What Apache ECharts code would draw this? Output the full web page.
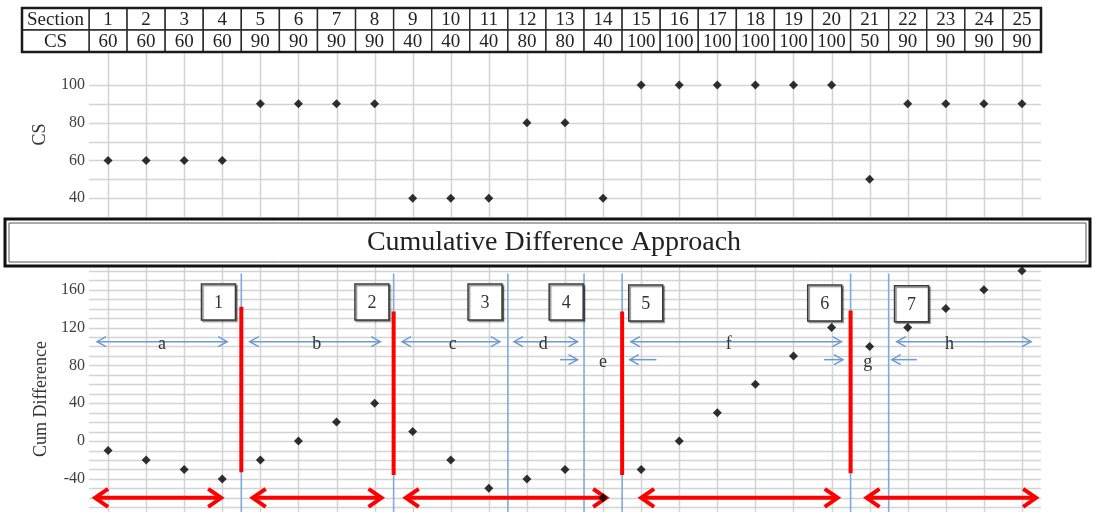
<!DOCTYPE html>
<html>
<head>
<meta charset="utf-8">
<title>Cumulative Difference Approach</title>
<script src="https://cdn.jsdelivr.net/npm/echarts@6/dist/echarts.min.js"></script>
<style>
  html, body { margin: 0; padding: 0; background: #ffffff; }
  #chart { width: 1093px; height: 512px; }
</style>
</head>
<body>
<div id="chart"></div>
<script>
// ---- Data -------------------------------------------------------------
const sections = [1, 2, 3, 4, 5, 6, 7, 8, 9, 10, 11, 12, 13, 14, 15, 16, 17, 18, 19, 20, 21, 22, 23, 24, 25];
const csValues = [60, 60, 60, 60, 90, 90, 90, 90, 40, 40, 40, 80, 80, 40, 100, 100, 100, 100, 100, 100, 50, 90, 90, 90, 90];
// Running sum of (CS - 70) per section
const cumDiff = [-10, -20, -30, -40, -20, 0, 20, 40, 10, -20, -50, -40, -30, -60, -30, 0, 30, 60, 90, 120, 100, 120, 140, 160, 180];

const rowHeaders = ['Section', 'CS'];
const chartTitle = 'Cumulative Difference Approach';

// Axis tick labels and grid levels
const csTickLabels = [40, 60, 80, 100];
const csGridLevels = [40, 50, 60, 70, 80, 90, 100];
const cdTickLabels = [-40, 0, 40, 80, 120, 160];
const cdGridLevels = [-70, -60, -50, -40, -30, -20, -10, 0, 10, 20, 30, 40, 50, 60, 70, 80, 90, 100, 110, 120, 130, 140, 150, 160, 170, 180];

// Segment boundaries (section units) and the level their lines start from
const dividerX = [4.5, 8.5, 11.5, 13.5, 14.5, 20.5, 21.5];
const dividerTop = 177;
// Change points: [section, top, bottom]
const breakLines = [[4.5, 142, -33], [8.5, 137, -36], [14.5, 137, -36], [20.5, 138, -34]];
// Homogeneous sections: [from, to, level]
const segmentSpans = [[0.58, 4.05, -60], [4.72, 8.26, -60], [8.74, 14.16, -60], [14.92, 20.24, -60], [20.84, 25.45, -60]];
// Sub-range arrows: [from, to, level, head at from, head at to]
const rangeArrows = [
  [0.71, 4.13, 105, 1, 1],
  [4.72, 8.15, 105, 1, 1],
  [8.72, 11.29, 105, 1, 1],
  [11.66, 13.33, 105, 1, 1],
  [12.87, 13.33, 86, 0, 1],
  [14.70, 15.40, 86, 1, 0],
  [14.73, 20.26, 105, 1, 1],
  [19.80, 20.30, 86, 0, 1],
  [21.58, 22.24, 86, 1, 0],
  [21.71, 25.24, 105, 1, 1]
];
const rangeLetters = ['a', 'b', 'c', 'd', 'e', 'f', 'g', 'h'];
const rangeLetterPos = [[2.42, 102], [6.48, 102], [10.05, 102], [12.43, 102], [14.0, 83], [17.3, 102], [20.95, 83], [23.1, 102]];
const segmentNumbers = ['1', '2', '3', '4', '5', '6', '7'];
const segmentNumberPos = [[3.9, 147], [7.93, 147], [10.9, 147], [13.03, 147], [15.12, 146], [19.82, 146], [22.1, 145]];

// ---- Styling helpers ---------------------------------------------------
const SERIF = "'Liberation Serif', 'DejaVu Serif', serif";
const GRID_LINE = { stroke: '#d3d3d3', lineWidth: 1.5 };
const BLUE = '#6b9bd3';
const RED = '#ff0000';

function hLine(params, api) {
  const c = params.coordSys;
  const y = Math.round(api.coord([sections[0], api.value(0)])[1]) + 0.5;
  return { type: 'line', silent: true, shape: { x1: c.x, y1: y, x2: c.x + c.width, y2: y }, style: GRID_LINE };
}
function vLine(params, api) {
  const c = params.coordSys;
  const x = Math.round(api.coord([api.value(0), 0])[0]) + 0.5;
  return { type: 'line', silent: true, shape: { x1: x, y1: c.y, x2: x, y2: c.y + c.height }, style: GRID_LINE };
}
function head(tip, dir, len, half) {
  return [[tip[0] - dir * len, tip[1] - half], [tip[0], tip[1]], [tip[0] - dir * len, tip[1] + half]];
}
function textEl(t, x, y, size, color) {
  return { type: 'text', x: x, y: y, style: { text: t, align: 'center', verticalAlign: 'middle', font: size + 'px ' + SERIF, fill: color } };
}

// Data table above the upper chart
function renderTableColumn(params, api) {
  const c = params.coordSys;
  const s = api.value(0), v = api.value(1);
  const xL = api.coord([s - 0.5, 1])[0];
  const xR = api.coord([s + 0.5, 1])[0];
  const yMid = api.coord([s, 1])[1];
  const top = c.y, bot = c.y + c.height;
  const cell = { fill: '#ffffff', stroke: '#2a2a2a', lineWidth: 1.4 };
  const children = [
    { type: 'rect', shape: { x: xL, y: top, width: xR - xL, height: yMid - top }, style: cell },
    { type: 'rect', shape: { x: xL, y: yMid, width: xR - xL, height: bot - yMid }, style: cell },
    textEl(String(s), (xL + xR) / 2, (top + yMid) / 2 + 1, 19, '#222'),
    textEl(String(v), (xL + xR) / 2, (yMid + bot) / 2 + 1, 19, '#222')
  ];
  const hx = c.x - 67;
  if (params.dataIndex === 0) {
    children.push(
      { type: 'rect', shape: { x: hx, y: top, width: c.x - hx, height: yMid - top }, style: cell },
      { type: 'rect', shape: { x: hx, y: yMid, width: c.x - hx, height: bot - yMid }, style: cell },
      textEl(rowHeaders[0], (hx + c.x) / 2, (top + yMid) / 2 + 1, 19, '#222'),
      textEl(rowHeaders[1], (hx + c.x) / 2, (yMid + bot) / 2 + 1, 19, '#222')
    );
  }
  if (params.dataIndex === sections.length - 1) {
    children.push({ type: 'rect', shape: { x: hx, y: top, width: c.x + c.width - hx, height: bot - top },
      style: { fill: 'none', stroke: '#1a1a1a', lineWidth: 2.5 } });
  }
  return { type: 'group', children: children };
}

const yLabelStyle = { fontFamily: SERIF, fontSize: 16, color: '#404040', margin: 4 };
const yNameStyle = { fontFamily: SERIF, fontSize: 18, color: '#333333' };

const option = {
  animation: false,
  backgroundColor: '#ffffff',
  grid: [
    { left: 89, top: 52, width: 952, height: 165 },
    { left: 89, top: 266, width: 952, height: 246 },
    { left: 89, top: 8, width: 952, height: 44 }
  ],
  xAxis: [
    { type: 'value', gridIndex: 0, min: 0.5, max: 25.5, show: false },
    { type: 'value', gridIndex: 1, min: 0.5, max: 25.5, show: false },
    { type: 'value', gridIndex: 2, min: 0.5, max: 25.5, show: false }
  ],
  yAxis: [
    {
      type: 'value', gridIndex: 0, min: 30, max: 117.5, interval: 10,
      axisLine: { show: false }, axisTick: { show: false }, splitLine: { show: false },
      axisLabel: Object.assign({ formatter: v => csTickLabels.includes(v) ? String(v) : '' }, yLabelStyle),
      name: 'CS', nameLocation: 'middle', nameRotate: 90, nameGap: 40, nameTextStyle: yNameStyle
    },
    {
      type: 'value', gridIndex: 1, min: -75, max: 185, interval: 5,
      axisLine: { show: false }, axisTick: { show: false }, splitLine: { show: false },
      axisLabel: Object.assign({ formatter: v => cdTickLabels.includes(v) ? String(v) : '' }, yLabelStyle),
      name: 'Cum Difference', nameLocation: 'middle', nameRotate: 90, nameGap: 34,
      nameTextStyle: Object.assign({ padding: [0, 20, 0, 0] }, yNameStyle)
    },
    { type: 'value', gridIndex: 2, min: 0, max: 2, show: false }
  ],
  series: [
    // grid lines
    { type: 'custom', xAxisIndex: 0, yAxisIndex: 0, z: 0, silent: true, data: csGridLevels.map(v => [v]), renderItem: hLine },
    { type: 'custom', xAxisIndex: 0, yAxisIndex: 0, z: 0, silent: true, data: sections.map(s => [s]), renderItem: vLine },
    { type: 'custom', xAxisIndex: 1, yAxisIndex: 1, z: 0, silent: true, data: cdGridLevels.map(v => [v]), renderItem: hLine },
    { type: 'custom', xAxisIndex: 1, yAxisIndex: 1, z: 0, silent: true, data: sections.map(s => [s]), renderItem: vLine },
    // table
    { type: 'custom', xAxisIndex: 2, yAxisIndex: 2, z: 3, silent: true,
      data: sections.map((s, i) => [s, csValues[i]]), renderItem: renderTableColumn },
    // CS per section
    { type: 'scatter', xAxisIndex: 0, yAxisIndex: 0, z: 5, symbol: 'diamond', symbolSize: 9,
      itemStyle: { color: '#000000' }, data: sections.map((s, i) => [s, csValues[i]]) },
    // segment dividers
    { type: 'custom', xAxisIndex: 1, yAxisIndex: 1, z: 2, silent: true, data: dividerX.map(x => [x]),
      renderItem: function (params, api) {
        const c = params.coordSys;
        const p = api.coord([api.value(0), dividerTop]);
        return { type: 'line', shape: { x1: p[0], y1: p[1], x2: p[0], y2: c.y + c.height },
          style: { stroke: '#7eaadc', lineWidth: 1.6 } };
      } },
    // change points
    { type: 'custom', xAxisIndex: 1, yAxisIndex: 1, z: 3, silent: true, data: breakLines,
      renderItem: function (params, api) {
        const p1 = api.coord([api.value(0), api.value(1)]);
        const p2 = api.coord([api.value(0), api.value(2)]);
        return { type: 'line', shape: { x1: p1[0], y1: p1[1], x2: p2[0], y2: p2[1] },
          style: { stroke: RED, lineWidth: 4 } };
      } },
    // homogeneous section spans
    { type: 'custom', xAxisIndex: 1, yAxisIndex: 1, z: 4, silent: true, data: segmentSpans,
      renderItem: function (params, api) {
        const p1 = api.coord([api.value(0), api.value(2)]);
        const p2 = api.coord([api.value(1), api.value(2)]);
        const st = { stroke: RED, lineWidth: 4, fill: null, lineJoin: 'miter' };
        const t1 = [p1[0] + 3, p1[1]], t2 = [p2[0] - 3, p2[1]];
        return { type: 'group', children: [
          { type: 'line', shape: { x1: t1[0] + 2, y1: t1[1], x2: t2[0] - 2, y2: t2[1] }, style: st },
          { type: 'polyline', shape: { points: head(t1, -1, 13, 9) }, style: st },
          { type: 'polyline', shape: { points: head(t2, 1, 13, 9) }, style: st }
        ] };
      } },
    // sub-range arrows
    { type: 'custom', xAxisIndex: 1, yAxisIndex: 1, z: 4, silent: true, data: rangeArrows,
      renderItem: function (params, api) {
        const p1 = api.coord([api.value(0), api.value(2)]);
        const p2 = api.coord([api.value(1), api.value(2)]);
        const st = { stroke: BLUE, lineWidth: 1.5, fill: null };
        const ch = [{ type: 'line', shape: { x1: p1[0], y1: p1[1], x2: p2[0], y2: p2[1] }, style: st }];
        if (api.value(3)) ch.push({ type: 'polyline', shape: { points: head(p1, -1, 9, 5) }, style: st });
        if (api.value(4)) ch.push({ type: 'polyline', shape: { points: head(p2, 1, 9, 5) }, style: st });
        return { type: 'group', children: ch };
      } },
    // sub-range letters
    { type: 'custom', xAxisIndex: 1, yAxisIndex: 1, z: 6, silent: true, data: rangeLetterPos,
      renderItem: function (params, api) {
        const p = api.coord([api.value(0), api.value(1)]);
        return textEl(rangeLetters[params.dataIndex], p[0], p[1], 18, '#333');
      } },
    // numbered change-point boxes
    { type: 'custom', xAxisIndex: 1, yAxisIndex: 1, z: 6, silent: true, data: segmentNumberPos,
      renderItem: function (params, api) {
        const p = api.coord([api.value(0), api.value(1)]);
        return { type: 'group', children: [
          { type: 'rect', shape: { x: p[0] - 17, y: p[1] - 18, width: 34, height: 36 },
            style: { fill: '#ffffff', stroke: '#3a3a3a', lineWidth: 1.5,
              shadowColor: 'rgba(0,0,0,0.45)', shadowOffsetX: 1.5, shadowOffsetY: 1.5, shadowBlur: 1 } },
          textEl(segmentNumbers[params.dataIndex], p[0], p[1] + 1, 18, '#333')
        ] };
      } },
    // cumulative difference per section
    { type: 'scatter', xAxisIndex: 1, yAxisIndex: 1, z: 5, symbol: 'diamond', symbolSize: 9,
      itemStyle: { color: '#000000' }, data: sections.map((s, i) => [s, cumDiff[i]]) }
  ],
  graphic: [
    { type: 'rect', x: 5, y: 219, z: 100, shape: { width: 1085, height: 47 },
      style: { fill: '#ffffff', stroke: '#111111', lineWidth: 3 } },
    { type: 'rect', x: 9, y: 223, z: 101, shape: { width: 1077, height: 39 },
      style: { fill: 'none', stroke: '#555555', lineWidth: 1 } },
    { type: 'text', x: 554, y: 243, z: 102,
      style: { text: chartTitle, align: 'center', verticalAlign: 'middle', font: '28px ' + SERIF, fill: '#222222' } }
  ]
};

const chart = echarts.init(document.getElementById('chart'));
chart.setOption(option);
</script>
</body>
</html>
